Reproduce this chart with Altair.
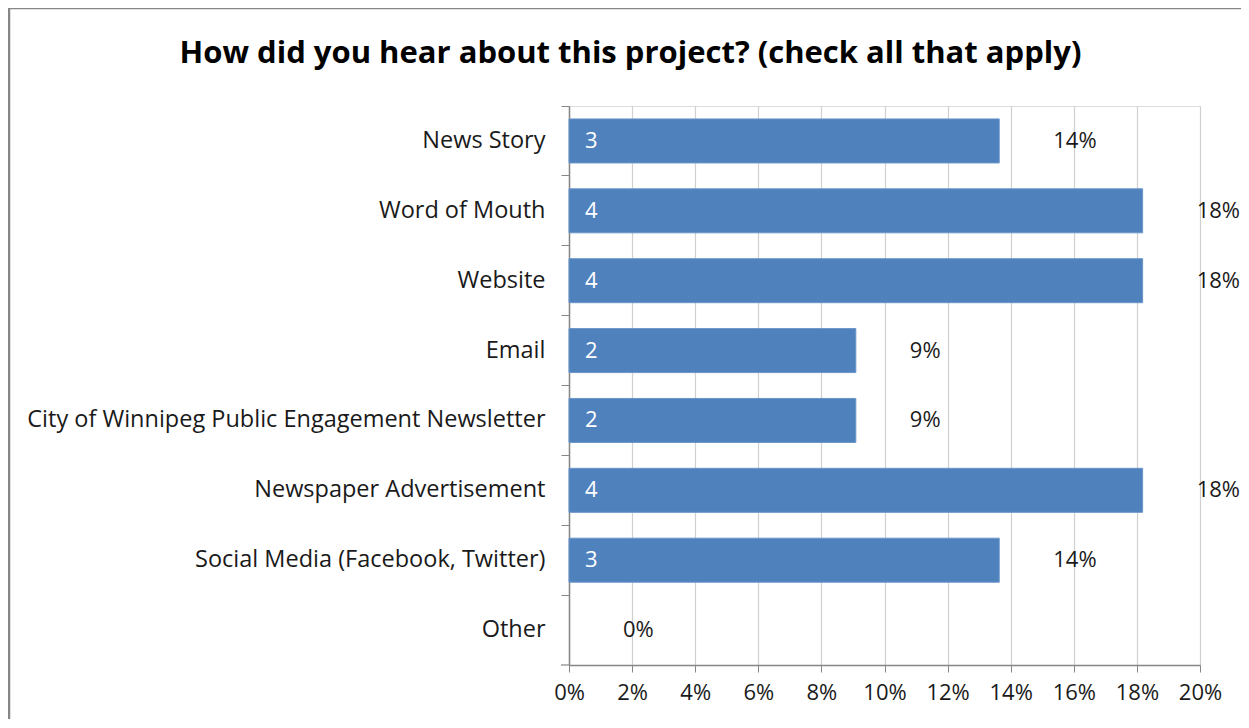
import altair as alt
import pandas as pd

categories = [
    "News Story",
    "Word of Mouth",
    "Website",
    "Email",
    "City of Winnipeg Public Engagement Newsletter",
    "Newspaper Advertisement",
    "Social Media (Facebook, Twitter)",
    "Other",
]
counts = [3, 4, 4, 2, 2, 4, 3, 0]
total_responses = 22

df = pd.DataFrame({"category": categories, "count": counts})
df["pct"] = df["count"] / total_responses

FONT = "Open Sans"
BLUE = "#4F81BD"
TEXT = "#1a1a1a"

y_enc = alt.Y(
    "category:N",
    sort=categories,
    title=None,
    scale=alt.Scale(paddingInner=0, paddingOuter=0),
    axis=alt.Axis(
        bandPosition=0,
        labelFont=FONT,
        labelFontSize=23.5,
        labelColor=TEXT,
        labelPadding=16,
        tickSize=8,
        tickColor="#868686",
        domainColor="#868686",
        domainWidth=1.5,
        grid=False,
        labelLimit=700,
    ),
)

x_enc = alt.X(
    "pct:Q",
    title=None,
    scale=alt.Scale(domain=[0, 0.2], nice=False),
    axis=alt.Axis(
        format=".0%",
        values=[0, 0.02, 0.04, 0.06, 0.08, 0.1, 0.12, 0.14, 0.16, 0.18, 0.2],
        labelFont=FONT,
        labelFontSize=22,
        labelColor=TEXT,
        labelPadding=10,
        labelOverlap=False,
        labelFlush=False,
        tickSize=7,
        tickColor="#868686",
        domainColor="#868686",
        domainWidth=1.5,
        grid=True,
        gridColor="#D0D0D0",
        gridWidth=1.2,
    ),
)

base = alt.Chart(df)

bars = base.transform_filter("datum.count > 0").mark_bar(
    color=BLUE, height=44, stroke="#6a95c9", strokeWidth=1
).encode(x=x_enc, y=y_enc)

count_labels = base.transform_filter("datum.count > 0").mark_text(
    align="left", baseline="middle", dx=16, color="white", font=FONT, fontSize=22
).encode(x=alt.datum(0), y=alt.Y("category:N", sort=categories), text="count:Q")

pct_labels = base.mark_text(
    align="left", baseline="middle", dx=54, color=TEXT, font=FONT, fontSize=22
).encode(
    x="pct:Q",
    y=alt.Y("category:N", sort=categories),
    text=alt.Text("pct:Q", format=".0%"),
)

bottom_tick = alt.Chart().mark_rule(color="#868686", strokeWidth=1.2).encode(
    x=alt.value(-8), x2=alt.value(0), y=alt.value(559)
)

frame_left = alt.Chart().mark_rule(color="#868686", strokeWidth=2.5).encode(
    x=alt.value(-560), y=alt.value(-99), y2=alt.value(620)
)
frame_top = alt.Chart().mark_rule(color="#868686", strokeWidth=2.5).encode(
    x=alt.value(-561), x2=alt.value(680), y=alt.value(-98)
)

chart = (
    alt.layer(bars, count_labels, pct_labels, bottom_tick, frame_left, frame_top)
    .properties(
        width=631,
        height=559,
        autosize=alt.AutoSizeParams(type="none"),
        padding={"left": 561, "top": 98, "right": 41, "bottom": 54},
        title=alt.TitleParams(
            "How did you hear about this project? (check all that apply)",
            font=FONT,
            fontSize=31,
            fontWeight="bold",
            color="#000000",
            anchor="middle",
            frame="group",
            baseline="middle",
            dx=-254,
            dy=79,
            offset=0,
        ),
    )
    .configure_view(stroke="#D0D0D0", strokeWidth=1.2)
    .configure(background="white")
)

chart.save("out.html", embed_options={"renderer": "svg", "actions": False})
